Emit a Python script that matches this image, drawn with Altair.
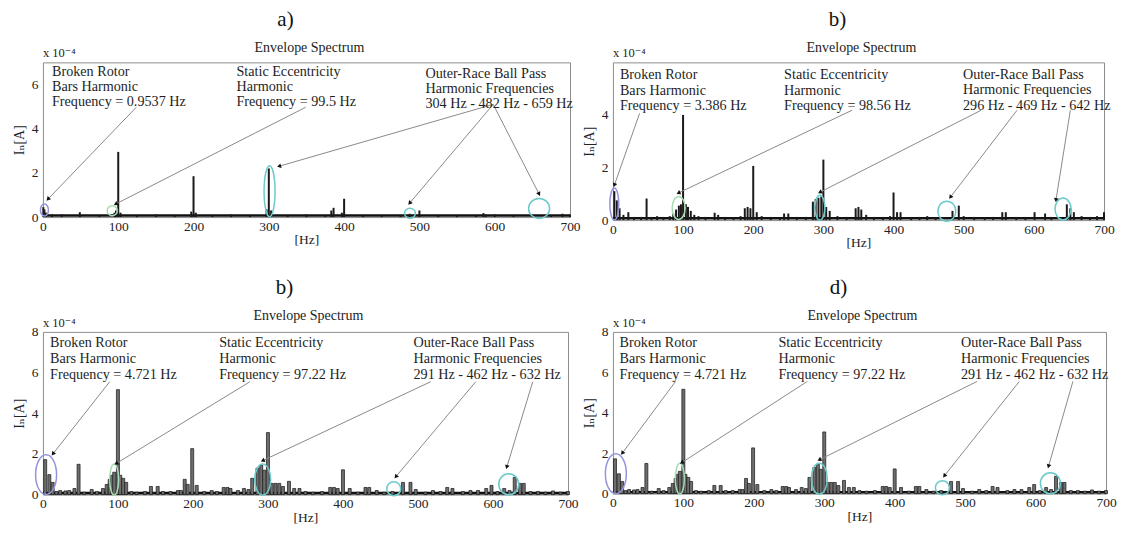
import math
import altair as alt
import pandas as pd

FONT = "Liberation Serif, DejaVu Serif, serif"
X_TICKS = [0, 100, 200, 300, 400, 500, 600, 700]
TITLE = "Envelope Spectrum"
Y_TITLE = "I\u2099[A]"
EXPONENT = "x 10\u207b\u2074"
PURPLE = "#9494dc"
GREEN = "#a6dcb0"
CYAN = "#6ccaca"

# ---------------- panel a ----------------
A_FREQ = [0.5, 2, 4, 12, 25, 49, 75, 95, 97, 100, 103, 125, 150, 175, 197, 200, 203, 225, 250, 275,
          297, 300, 303, 325, 350, 375, 383, 386, 397, 400, 425, 450, 475, 487, 500, 525, 550, 575,
          585, 588, 600, 625, 650, 675, 690, 700]
A_AMP = [0.45, 0.35, 0.2, 0.12, 0.12, 0.22, 0.1, 0.2, 0.3, 2.95, 0.2, 0.1, 0.12, 0.1, 0.25, 1.85, 0.2,
         0.1, 0.12, 0.1, 0.35, 2.2, 0.3, 0.1, 0.12, 0.1, 0.3, 0.42, 0.2, 0.83, 0.1, 0.1, 0.1, 0.15,
         0.3, 0.1, 0.1, 0.1, 0.18, 0.12, 0.12, 0.1, 0.1, 0.1, 0.15, 0.12]
A_FLOOR = 0.07
A_YMAX = 7
A_YTICKS = [0, 2, 4, 6]
A_NOTES = ["Broken Rotor\nBars Harmonic\nFrequency = 0.9537 Hz",
           "Static Eccentricity\nHarmonic\nFrequency = 99.5 Hz",
           "Outer-Race Ball Pass\nHarmonic Frequencies\n304 Hz - 482 Hz - 659 Hz"]
A_NOTE_HZ = [12, 257, 508]
A_NOTE_AMP = [6.86, 6.86, 6.8]
A_ARROW_HZ0 = [124, 349, 598, 598, 598]
A_ARROW_AMP0 = [4.97, 4.97, 5.1, 5.1, 5.1]
A_ARROW_HZ1 = [6.6, 96.6, 313.6, 487, 659]
A_ARROW_AMP1 = [0.81, 0.59, 2.3, 0.63, 1.04]
A_RING_HZ = [2, 92, 301, 487.5, 659]
A_RING_AMP = [0.32, 0.29, 1.17, 0.17, 0.39]
A_RING_COLOR = [PURPLE, GREEN, CYAN, CYAN, CYAN]
A_RING_PX = [(8, 12), (10, 10), (11, 51), (11, 10), (21, 20)]

# ---------------- panel b ----------------
B_FREQ = [2, 5.5, 9.5, 15, 22, 30, 40, 48, 55, 63, 72, 81, 86, 90, 94, 97, 100, 104, 107, 111, 116,
          122, 132, 145, 150, 160, 172, 182, 188, 192, 196, 200, 205, 212, 225, 238, 244, 250, 262,
          275, 285, 289, 293, 297, 300, 304, 309, 320, 333, 346, 350, 354, 361, 372, 385, 395, 400,
          405, 410, 425, 437, 448, 460, 484, 493, 500, 515, 530, 542, 555, 560, 575, 588, 601, 616,
          625, 647, 652, 657, 668, 680, 690, 700]
B_AMP = [1.1, 0.75, 0.45, 0.2, 0.3, 0.12, 0.12, 0.82, 0.12, 0.15, 0.12, 0.15, 0.25, 0.4, 0.55, 0.6,
         4.0, 0.6, 0.5, 0.35, 0.2, 0.15, 0.12, 0.28, 0.2, 0.12, 0.1, 0.15, 0.45, 0.5, 0.45, 2.06, 0.3,
         0.15, 0.12, 0.1, 0.25, 0.25, 0.12, 0.12, 0.7, 0.8, 0.85, 0.9, 2.3, 0.5, 0.35, 0.15, 0.12,
         0.45, 0.5, 0.4, 0.2, 0.12, 0.12, 0.15, 1.05, 0.3, 0.3, 0.1, 0.12, 0.15, 0.1, 0.35, 0.55,
         0.15, 0.12, 0.1, 0.12, 0.3, 0.3, 0.12, 0.12, 0.3, 0.25, 0.12, 0.6, 0.45, 0.3, 0.15, 0.12,
         0.15, 0.3]
B_FLOOR = 0.07
B_YMAX = 6
B_YTICKS = [0, 2, 4]
B_NOTES = ["Broken Rotor\nBars Harmonic\nFrequency = 3.386 Hz",
           "Static Eccentricity\nHarmonic\nFrequency = 98.56 Hz",
           "Outer-Race Ball Pass\nHarmonic Frequencies\n296 Hz - 469 Hz - 642 Hz"]
B_NOTE_HZ = [10, 244, 499]
B_NOTE_AMP = [5.77, 5.77, 5.8]
B_ARROW_HZ0 = [38, 341, 525, 576, 652]
B_ARROW_AMP0 = [4.06, 4.18, 4.18, 4.18, 4.18]
B_ARROW_HZ1 = [2.1, 93.3, 295, 481, 631.5]
B_ARROW_AMP1 = [1.33, 1.03, 1.06, 0.87, 0.76]
B_RING_HZ = [2, 93.7, 295, 476, 641.6]
B_RING_AMP = [0.61, 0.46, 0.47, 0.34, 0.42]
B_RING_COLOR = [PURPLE, GREEN, CYAN, CYAN, CYAN]
B_RING_PX = [(9, 32), (13, 23), (10, 25), (18, 20), (16, 22)]

# ---------------- panels c and d ----------------
C_FREQ = [3, 8.5, 13, 18, 23, 30, 35, 42, 47.5, 55, 65, 72, 80, 85, 89, 92, 95, 100, 103, 107, 111,
          118, 125, 136, 144, 153, 160, 170, 180, 184, 189, 193, 199, 205, 215, 225, 232, 241, 246,
          250, 260, 268, 274, 279, 286, 291, 295, 300, 305, 310, 315, 320, 328, 335, 342, 350, 360,
          372, 383, 388, 393, 400, 409, 420, 430, 435, 445, 455, 466, 480, 490, 497, 510, 520, 530,
          539, 546, 560, 570, 580, 591, 598, 606, 615, 622, 629, 636, 641, 650, 660, 670, 680, 690,
          700]
C_AMP = [1.72, 0.98, 0.6, 0.15, 0.2, 0.18, 0.2, 0.3, 1.49, 0.12, 0.25, 0.15, 0.3, 0.5, 0.75, 0.95,
         1.1, 5.16, 0.95, 0.8, 0.6, 0.15, 0.12, 0.15, 0.4, 0.4, 0.15, 0.15, 0.2, 0.2, 0.75, 0.5, 2.26,
         0.45, 0.15, 0.2, 0.15, 0.35, 0.35, 0.3, 0.2, 0.3, 0.25, 0.8, 1.3, 1.45, 1.2, 3.05, 0.55, 0.55,
         0.55, 0.4, 0.65, 0.3, 0.3, 0.15, 0.12, 0.15, 0.35, 0.35, 0.3, 1.22, 0.3, 0.12, 0.35, 0.35,
         0.2, 0.12, 0.15, 0.6, 0.6, 0.25, 0.12, 0.2, 0.15, 0.35, 0.3, 0.15, 0.2, 0.2, 0.3, 0.45, 0.15,
         0.3, 0.2, 0.85, 0.55, 0.55, 0.15, 0.15, 0.12, 0.18, 0.12, 0.15]
C_FLOOR = 0.07
C_YMAX = 8
C_YTICKS = [0, 2, 4, 6, 8]
C_NOTES = ["Broken Rotor\nBars Harmonic\nFrequency = 4.721 Hz",
           "Static Eccentricity\nHarmonic\nFrequency = 97.22 Hz",
           "Outer-Race Ball Pass\nHarmonic Frequencies\n291 Hz - 462 Hz - 632 Hz"]
C_NOTE_HZ = [9.5, 235, 494]
C_NOTE_AMP = [7.8, 7.8, 7.8]
C_ARROW_HZ0 = [89, 276, 517, 577, 653]
C_ARROW_AMP0 = [5.55, 5.55, 5.55, 5.55, 5.55]
C_ARROW_HZ1 = [13.3, 97.7, 293, 470.5, 618.4]
C_ARROW_AMP1 = [2.0, 1.53, 1.67, 0.88, 1.35]
C_RING_HZ = [4.2, 95, 293, 467.7, 621]
C_RING_AMP = [0.98, 0.74, 0.74, 0.29, 0.51]
C_RING_COLOR = [PURPLE, GREEN, CYAN, CYAN, CYAN]
C_RING_PX = [(21, 40), (9, 31), (16, 31), (14, 14), (20, 21)]

ONE = alt.Data(values=[{}])


def ellipse_path(w, h):
    m = float(max(w, h))
    rx, ry = w / m, h / m
    return (f"M{-rx:.3f},0 A{rx:.3f},{ry:.3f} 0 1,0 {rx:.3f},0 "
            f"A{rx:.3f},{ry:.3f} 0 1,0 {-rx:.3f},0 Z")


def panel(freq, amp, floor, ymax, yticks, width, height, letter, notes, nhz, namp, line_h,
          hz0, amp0, hz1, amp1, rhz, ramp, rpx, rcol, letter_y, title_y, bar_style):
    xs = alt.Scale(domain=[0, 700], nice=False, zero=False, padding=0)
    ys = alt.Scale(domain=[0, ymax], nice=False, zero=False, padding=0)
    xax = alt.Axis(values=X_TICKS, title="[Hz]", format="d", labelFlush=False)
    yax = alt.Axis(values=yticks, title=Y_TITLE, format="d", labelFlush=False)
    sx = width / 700.0
    sy = height / float(ymax)

    floor_l = alt.Chart(pd.DataFrame({"a": [0], "b": [700], "lvl": [floor]})).mark_rule(
        color="#111111", strokeWidth=2.6).encode(
        x=alt.X("a:Q", scale=xs, axis=xax), x2="b:Q",
        y=alt.Y("lvl:Q", scale=ys, axis=yax))

    bars = alt.Chart(pd.DataFrame({"hz": freq, "amp": amp})).mark_bar(
        orient="vertical", **bar_style).encode(
        x=alt.X("hz:Q", scale=xs, axis=xax),
        y=alt.Y("amp:Q", scale=ys, axis=yax))

    layers = [floor_l, bars]

    for h, a, (w, hh), col in zip(rhz, ramp, rpx, rcol):
        m = max(w, hh)
        layers.append(alt.Chart(pd.DataFrame({"hz": [h], "amp": [a]})).mark_point(
            shape=ellipse_path(w, hh), size=m * m, filled=False, color=col,
            strokeWidth=1.5, opacity=1).encode(
            x=alt.X("hz:Q", scale=xs, axis=xax), y=alt.Y("amp:Q", scale=ys, axis=yax)))

    angs = []
    for x0, y0, x1, y1 in zip(hz0, amp0, hz1, amp1):
        dx = (x1 - x0) * sx
        dys = -(y1 - y0) * sy
        angs.append(math.degrees(math.atan2(dx, -dys)) % 360)
    adf = pd.DataFrame({"hz0": hz0, "amp0": amp0, "hz1": hz1, "amp1": amp1, "ang": angs})
    layers.append(alt.Chart(adf).mark_rule(color="#8a8a8a", strokeWidth=1).encode(
        x=alt.X("hz0:Q", scale=xs, axis=xax), y=alt.Y("amp0:Q", scale=ys, axis=yax),
        x2="hz1:Q", y2="amp1:Q"))
    layers.append(alt.Chart(adf).mark_point(shape="triangle-up", filled=True, size=22,
                                            color="#111111", opacity=1).encode(
        x=alt.X("hz1:Q", scale=xs, axis=xax), y=alt.Y("amp1:Q", scale=ys, axis=yax),
        angle=alt.Angle("ang:Q", scale=None)))

    ndf = pd.DataFrame({"hz": nhz, "amp": namp, "txt": notes})
    layers.append(alt.Chart(ndf).mark_text(
        align="left", baseline="top", lineBreak="\n", lineHeight=line_h, fontSize=14.2,
        font=FONT, color="#1e1e1e").encode(
        x=alt.X("hz:Q", scale=xs, axis=xax), y=alt.Y("amp:Q", scale=ys, axis=yax),
        text="txt:N"))

    layers.append(alt.Chart(ONE).mark_text(
        text=letter, fontSize=21, font=FONT, align="center", baseline="middle",
        color="#111111").encode(x=alt.value(width / 2 - 21), y=alt.value(letter_y)))
    layers.append(alt.Chart(ONE).mark_text(
        text=TITLE, fontSize=14, font=FONT, align="center", baseline="middle",
        color="#222222").encode(x=alt.value(width / 2 + 3), y=alt.value(title_y)))
    layers.append(alt.Chart(ONE).mark_text(
        text=EXPONENT, fontSize=12.5, font=FONT, align="left", baseline="middle",
        color="#222222").encode(x=alt.value(0), y=alt.value(-9)))

    return alt.layer(*layers).properties(width=width, height=height)


TOP_BARS = {"size": 2, "color": "#1a1a1a"}
BOTTOM_BARS = {"size": 3, "fill": "#6e6e6e", "stroke": "#151515", "strokeWidth": 0.7}

pa = panel(A_FREQ, A_AMP, A_FLOOR, A_YMAX, A_YTICKS, 528, 155, "a)", A_NOTES, A_NOTE_HZ,
           A_NOTE_AMP, 15, A_ARROW_HZ0, A_ARROW_AMP0, A_ARROW_HZ1, A_ARROW_AMP1,
           A_RING_HZ, A_RING_AMP, A_RING_PX, A_RING_COLOR, -42.5, -14, TOP_BARS)
pb = panel(B_FREQ, B_AMP, B_FLOOR, B_YMAX, B_YTICKS, 492, 158, "b)", B_NOTES, B_NOTE_HZ,
           B_NOTE_AMP, 15.5, B_ARROW_HZ0, B_ARROW_AMP0, B_ARROW_HZ1, B_ARROW_AMP1,
           B_RING_HZ, B_RING_AMP, B_RING_PX, B_RING_COLOR, -42.5, -14, TOP_BARS)
pc = panel(C_FREQ, C_AMP, C_FLOOR, C_YMAX, C_YTICKS, 526, 163, "b)", C_NOTES, C_NOTE_HZ,
           C_NOTE_AMP, 16, C_ARROW_HZ0, C_ARROW_AMP0, C_ARROW_HZ1, C_ARROW_AMP1,
           C_RING_HZ, C_RING_AMP, C_RING_PX, C_RING_COLOR, -44, -16, BOTTOM_BARS)
pdd = panel(C_FREQ, C_AMP, C_FLOOR, C_YMAX, C_YTICKS, 494, 162, "d)", C_NOTES, C_NOTE_HZ,
            C_NOTE_AMP, 16, C_ARROW_HZ0, C_ARROW_AMP0, C_ARROW_HZ1, C_ARROW_AMP1,
            C_RING_HZ, C_RING_AMP, C_RING_PX, C_RING_COLOR, -44, -16, BOTTOM_BARS)

chart = alt.concat(pa, pb, pc, pdd, columns=2, spacing={"row": 112, "column": 43},
                   bounds="flush").properties(
    padding={"left": 3, "top": 0, "right": 0, "bottom": 0}
).configure_view(stroke="#8c8c8c", strokeWidth=1).configure_axis(
    labelFont=FONT, labelFontSize=13.5, labelColor="#222222",
    titleFont=FONT, titleFontSize=14, titleFontWeight="normal", titleColor="#222222",
    domain=False, ticks=False, tickSize=0, grid=False, labelPadding=4, titlePadding=1
).configure_axisX(labelPadding=2, titlePadding=0, titleFontSize=13.5
).configure_axisY(labelPadding=5, titlePadding=5)

chart.save("out.html", embed_options={"renderer": "svg", "actions": False})
